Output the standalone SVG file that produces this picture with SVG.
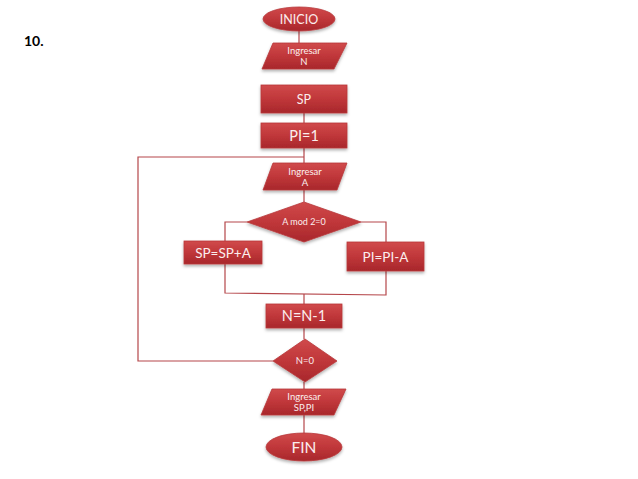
<svg xmlns="http://www.w3.org/2000/svg" width="638" height="479" viewBox="0 0 638 479">
<defs>
<linearGradient id="red" x1="0" y1="0" x2="0" y2="1">
<stop offset="0" stop-color="#d04a4b"/>
<stop offset="0.5" stop-color="#c0373a"/>
<stop offset="1" stop-color="#a8272b"/>
</linearGradient>
<filter id="sh" x="-20%" y="-20%" width="140%" height="150%">
<feDropShadow dx="0" dy="2" stdDeviation="1.5" flood-color="#000" flood-opacity="0.3"/>
</filter>
</defs>
<style>
.n{fill:url(#red);stroke:#b8393b;stroke-width:0.8;filter:url(#sh)}
.t{font-family:Lato,"Liberation Sans",sans-serif;fill:#fbeeee;text-anchor:middle}
.c{fill:none;stroke:#b5464a;stroke-width:1.2}
</style>
<rect width="638" height="479" fill="#fff"/>
<text x="24" y="46" font-family="Lato, Liberation Sans, sans-serif" font-weight="bold" font-size="14" fill="#000">10.</text>
<g id="connectors">
<line class="c" x1="299" y1="31" x2="299" y2="43"/>
<line class="c" x1="304" y1="113" x2="304" y2="123"/>
<line class="c" x1="304" y1="148" x2="304" y2="163"/>
<line class="c" x1="304" y1="190" x2="304" y2="202"/>
<polyline class="c" points="247,222 225,222 225,241"/>
<polyline class="c" points="361,222 386,222 386,242"/>
<polyline class="c" points="225,263 225,293 386,295 386,271"/>
<line class="c" x1="304" y1="294" x2="304" y2="304"/>
<line class="c" x1="304" y1="328" x2="304" y2="339"/>
<polyline class="c" points="273,361 138,361 138,157 304,157"/>
<line class="c" x1="304" y1="382" x2="304" y2="389"/>
<line class="c" x1="304" y1="415" x2="304" y2="433"/>
</g>
<g id="inicio"><ellipse class="n" cx="299" cy="19" rx="36" ry="12"/><text class="t" x="299" y="23.5" font-size="12.5">INICIO</text></g>
<g id="ingresarN"><polygon class="n" points="273,43 347,43 334,69 262,69"/><text class="t" x="304" y="54" font-size="9.5">Ingresar</text><text class="t" x="304" y="65" font-size="9.5">N</text></g>
<g id="sp"><rect class="n" x="261" y="85" width="86" height="28"/><text class="t" x="304" y="104" font-size="12.5">SP</text></g>
<g id="pi1"><rect class="n" x="261" y="123" width="86" height="25"/><text class="t" x="304" y="140.5" font-size="14.5">PI=1</text></g>
<g id="ingresarA"><polygon class="n" points="273,163 347,163 337,190 263,190"/><text class="t" x="305" y="175" font-size="9.5">Ingresar</text><text class="t" x="305" y="186" font-size="9.5">A</text></g>
<g id="amod"><polygon class="n" points="304,202 361,222 304,242 247,222"/><text class="t" x="304" y="225" font-size="9">A mod 2=0</text></g>
<g id="spsum"><rect class="n" x="184" y="241" width="78" height="23"/><text class="t" x="223" y="257.5" font-size="13.5">SP=SP+A</text></g>
<g id="piresta"><rect class="n" x="347" y="242" width="77" height="29"/><text class="t" x="385.5" y="261.5" font-size="13.5">PI=PI-A</text></g>
<g id="nresta"><rect class="n" x="266" y="304" width="76" height="24"/><text class="t" x="304" y="321" font-size="14.5">N=N-1</text></g>
<g id="n0"><polygon class="n" points="305,339 337,361 305,382 273,361"/><text class="t" x="305" y="364" font-size="9.5">N=0</text></g>
<g id="ingresarSPPI"><polygon class="n" points="272,389 346,389 334,415 261,415"/><text class="t" x="304" y="400" font-size="9.5">Ingresar</text><text class="t" x="304" y="411" font-size="9.5">SP,PI</text></g>
<g id="fin"><ellipse class="n" cx="304" cy="447" rx="38" ry="14"/><text class="t" x="304" y="452.5" font-size="15.5">FIN</text></g>
</svg>
